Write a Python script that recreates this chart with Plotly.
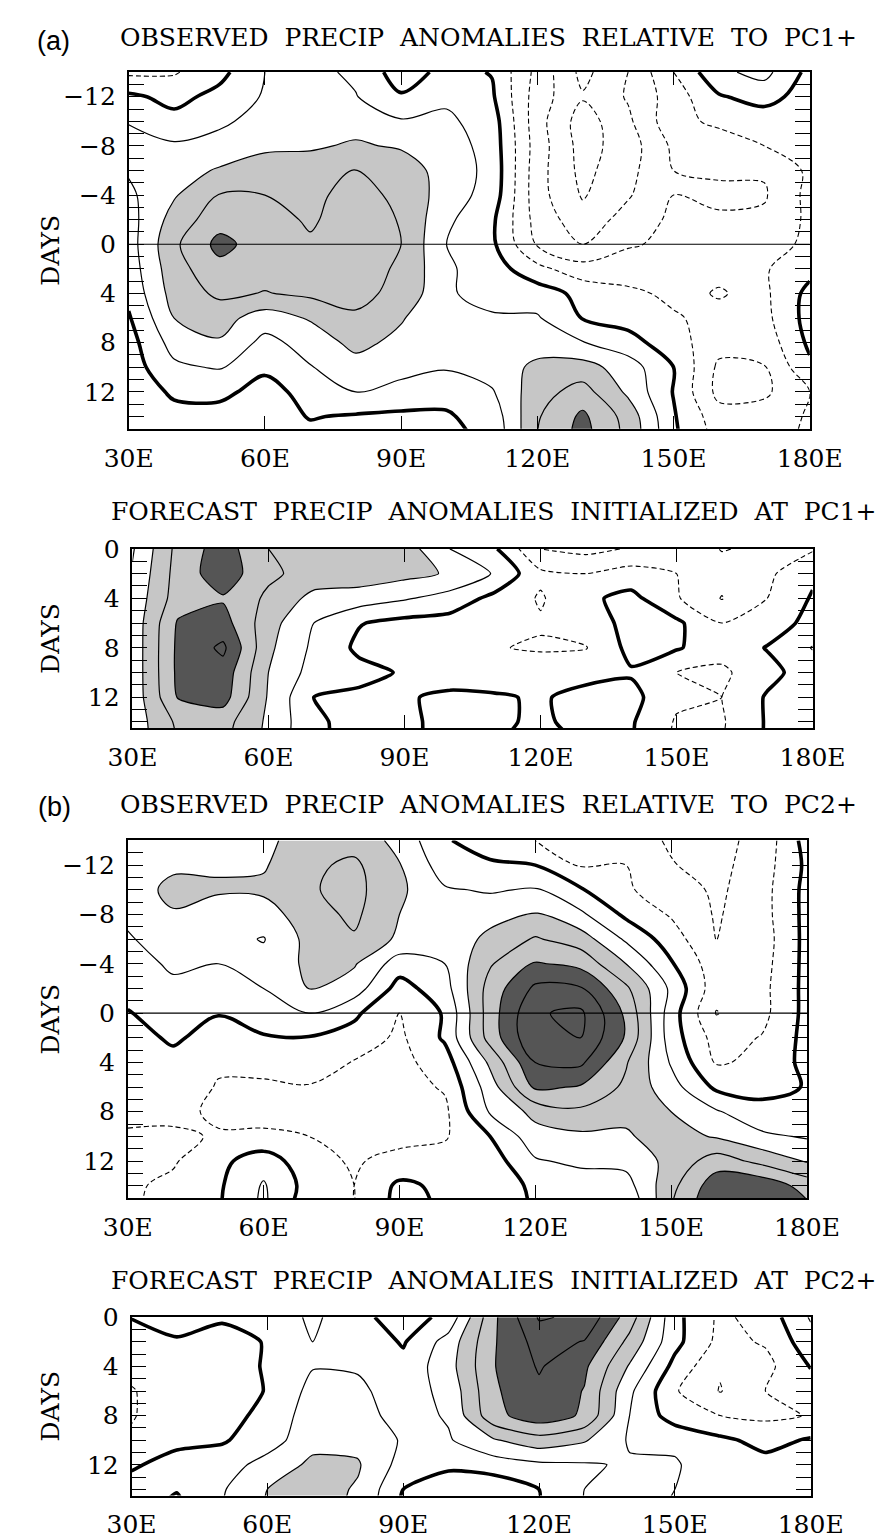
import plotly.graph_objects as go

W, H = 882, 1539

# ---------------- data ----------------
LON = [30, 40, 50, 60, 70, 80, 90, 100, 110, 120, 130, 140, 150, 160, 170, 180]
DAYS_OBS = [-14, -12, -10, -8, -6, -4, -2, 0, 2, 4, 6, 8, 10, 12, 14, 16]
DAYS_FC = [0, 2, 4, 6, 8, 10, 12, 14, 16]

# (a) observed precip anomalies relative to PC1+  (rows = days, cols = LON)
OBS_PC1 = [
    [-1.2, -1.1, -0.3, 1.0, 1.3, 0.8, -0.5, 0.3, -0.05, -2.3, -4.3, -3.0, -1.0, 0.8, 1.3, -0.3],
    [0.2, -0.3, 0.3, 1.1, 1.4, 1.05, 0.1, 0.8, 0.15, -2.5, -3.9, -2.9, -1.5, -0.1, 0.4, -0.5],
    [0.95, 0.3, 0.8, 1.4, 1.6, 1.7, 1.1, 1.2, 0.5, -2.6, -4.5, -3.2, -1.3, -0.8, -0.6, -0.5],
    [1.3, 1.15, 1.4, 1.8, 1.9, 2.1, 1.9, 1.5, 0.6, -2.5, -4.4, -3.5, -1.8, -1.5, -1.0, -0.6],
    [1.1, 1.6, 2.1, 2.5, 2.4, 3.05, 2.5, 1.6, 0.7, -2.6, -4.3, -3.3, -2.0, -1.9, -1.9, -0.8],
    [0.8, 1.9, 3.05, 3.0, 2.8, 3.3, 2.8, 1.5, 0.6, -2.6, -4.1, -3.1, -2.0, -2.15, -2.1, -0.7],
    [0.6, 2.4, 3.6, 3.3, 2.9, 3.4, 2.95, 1.2, 0.2, -2.4, -3.6, -2.6, -1.8, -1.9, -1.8, -0.8],
    [0.55, 2.8, 4.3, 3.5, 3.1, 3.4, 3.0, 1.0, 0.2, -2.1, -3.0, -2.1, -1.8, -1.5, -1.4, -0.8],
    [0.45, 2.6, 3.7, 3.4, 3.3, 3.3, 2.9, 1.15, 0.5, -0.7, -1.6, -1.5, -1.3, -1.4, -1.1, -0.3],
    [0.25, 2.4, 3.2, 2.95, 3.2, 3.2, 2.8, 1.1, 0.7, 0.5, -0.3, -0.8, -1.2, -2.2, -1.2, 0.3],
    [-0.1, 2.0, 2.4, 1.5, 2.1, 2.9, 2.1, 1.05, 1.1, 1.1, -0.05, -0.4, -0.9, -1.3, -1.3, 0.4],
    [-0.4, 1.4, 1.9, 0.7, 1.4, 2.3, 1.7, 1.1, 1.4, 1.6, 1.05, 0.4, -0.6, -1.6, -1.6, 0.2],
    [-0.5, 0.8, 1.1, 0.15, 0.95, 1.6, 1.3, 1.1, 1.5, 2.2, 2.4, 1.5, 0.0, -2.2, -2.05, -0.2],
    [-0.6, 0.15, 0.2, -0.3, 0.3, 1.0, 0.7, 0.3, 0.9, 2.6, 3.4, 1.8, -0.05, -2.3, -2.2, -1.0],
    [-0.9, -0.3, -0.3, -0.4, 0.05, -0.1, -0.2, -0.1, 0.4, 2.9, 4.2, 2.6, 0.1, -1.6, -1.5, -0.9],
    [-1.0, -0.4, -0.4, -0.4, -0.3, -0.3, -0.4, -0.3, 0.2, 3.0, 4.4, 2.7, 0.2, -1.3, -1.2, -0.9],
]

# (a) forecast precip anomalies initialized at PC1+
FC_PC1 = [
    [0.9, 3.3, 4.5, 3.0, 2.3, 2.7, 2.5, 1.0, 0.1, -2.0, -2.3, -1.9, -1.3, -2.05, -1.8, -1.1],
    [1.1, 3.4, 4.6, 3.2, 2.6, 2.6, 2.3, 1.9, 0.9, -0.8, -1.0, -0.6, -1.0, -1.6, -1.2, -0.2],
    [1.3, 3.5, 3.9, 2.8, 1.7, 1.5, 1.1, 0.6, -0.3, -1.1, -0.2, 0.3, -0.9, -2.05, -1.0, 0.1],
    [1.35, 4.1, 4.4, 2.4, 1.0, 0.05, -0.3, -0.4, -0.8, -0.9, -0.5, 0.3, 0.2, -1.0, -0.5, 0.3],
    [1.35, 4.2, 5.2, 2.2, 0.8, -0.2, -0.4, -0.6, -0.95, -1.1, -1.05, 0.3, 0.1, -0.6, 0.05, 1.05],
    [1.35, 4.2, 4.6, 2.0, 0.6, 0.3, -0.1, -0.5, -0.5, -0.5, -0.3, -0.1, -1.0, -1.2, -0.3, 0.5],
    [1.35, 4.05, 4.4, 1.9, 0.0, -0.2, -0.1, 0.2, 0.1, -0.1, 0.3, 0.3, -0.8, -1.0, 0.1, 0.5],
    [1.4, 3.2, 3.4, 1.8, 0.2, -0.4, -0.2, 0.3, 0.05, -0.05, 0.1, 0.1, -1.1, -1.1, 0.1, 0.4],
    [1.4, 3.0, 3.2, 1.7, 0.2, -0.4, -0.2, 0.3, 0.0, -0.05, 0.0, 0.0, -1.2, -1.0, 0.1, 0.4],
]

# (b) observed precip anomalies relative to PC2+
OBS_PC2 = [
    [1.5, 1.5, 1.6, 1.8, 2.4, 2.6, 1.7, 0.1, -0.5, -1.0, -1.3, -1.6, -2.1, -2.3, -1.7, 0.4],
    [1.5, 1.8, 1.9, 1.9, 2.8, 3.2, 2.05, 0.5, 0.15, 0.0, -1.1, -1.0, -1.95, -2.3, -1.5, 0.2],
    [1.4, 2.3, 2.1, 2.2, 2.9, 3.3, 2.2, 1.1, 0.9, 1.1, 0.1, -0.9, -1.4, -2.2, -1.4, 0.3],
    [1.2, 1.9, 1.6, 1.5, 2.6, 3.2, 2.0, 1.3, 1.6, 2.1, 1.2, -0.2, -1.1, -2.1, -1.4, 0.3],
    [0.9, 1.5, 1.3, 0.95, 2.3, 2.9, 1.8, 1.2, 2.3, 3.1, 2.5, 0.85, -0.5, -2.02, -1.5, 0.3],
    [0.6, 1.15, 1.0, 1.3, 2.2, 2.1, 0.5, 1.0, 2.9, 4.1, 3.7, 2.0, 0.1, -1.6, -1.4, 0.3],
    [0.3, 0.8, 0.8, 1.0, 2.05, 1.5, -0.4, 0.6, 3.4, 5.2, 5.1, 3.2, 0.8, -1.6, -1.3, 0.3],
    [-0.05, 0.4, 0.05, 0.6, 1.0, 0.2, -1.0, 0.1, 3.5, 5.9, 6.2, 3.8, 0.5, -2.05, -1.3, 0.3],
    [-0.4, 0.15, -0.4, -0.1, -0.05, -0.4, -1.2, 0.15, 3.4, 5.9, 6.0, 3.9, 0.5, -1.4, -0.95, 0.3],
    [-0.6, -0.3, -0.9, -0.7, -0.6, -1.05, -1.3, -0.5, 2.2, 5.0, 5.2, 3.1, 0.9, -1.1, -0.8, 0.3],
    [-0.8, -0.6, -1.05, -1.15, -1.05, -1.3, -1.4, -0.9, 1.5, 4.2, 3.9, 2.8, 1.4, -0.2, -0.3, 0.05],
    [-0.9, -0.85, -1.1, -1.2, -1.2, -1.4, -1.7, -1.2, 1.1, 2.3, 2.8, 2.2, 2.0, 1.1, 0.3, 0.5],
    [-1.05, -1.1, -0.95, -0.9, -1.0, -1.3, -1.3, -1.1, 0.0, 1.6, 1.8, 1.9, 2.4, 1.9, 1.2, 0.9],
    [-1.15, -1.1, -0.3, 0.6, -0.7, -1.1, -0.7, -0.6, -0.5, 0.9, 1.2, 1.3, 2.3, 3.5, 2.7, 1.9],
    [-1.15, -0.8, -0.15, 1.1, -0.4, -1.0, 0.2, -0.2, -0.6, 0.2, 0.5, 0.6, 2.7, 4.6, 4.7, 3.6],
    [-1.1, -0.8, -0.1, 1.2, -0.9, -1.0, 0.3, -0.1, -0.6, 0.1, -0.3, -0.2, 3.0, 5.0, 5.2, 4.3],
]

# (b) forecast precip anomalies initialized at PC2+
FC_PC2 = [
    [0.05, 0.4, 0.1, 0.3, 1.2, 0.3, -0.5, 0.3, 3.8, 6.1, 5.8, 3.5, 0.3, -1.2, -0.6, 1.1],
    [-0.6, -0.1, -0.3, 0.05, 1.0, 0.7, -0.1, 1.4, 3.9, 5.4, 4.95, 2.7, 0.3, -1.3, -0.9, 0.6],
    [-0.8, -0.5, -0.5, 0.1, 0.95, 0.9, 0.3, 1.6, 3.95, 5.1, 4.2, 1.9, -0.3, -1.9, -1.3, 0.05],
    [-1.05, -0.6, -0.5, 0.05, 1.3, 1.2, 0.5, 1.3, 3.85, 4.8, 3.95, 1.2, -0.9, -2.05, -1.0, -0.5],
    [-1.05, -0.6, -0.4, 0.3, 1.5, 1.4, 0.6, 1.1, 3.7, 4.6, 3.85, 1.0, -0.5, -1.0, -1.2, -0.95],
    [-0.9, -0.2, -0.1, 0.5, 1.7, 1.7, 0.9, 0.9, 1.9, 2.6, 2.1, 0.9, 0.8, 0.2, -0.3, 0.1],
    [-0.1, 0.3, 0.5, 1.4, 2.2, 2.1, 0.6, 0.3, 0.5, 0.8, 0.9, 1.1, 1.1, 0.4, 0.3, 0.4],
    [0.3, 0.05, 0.9, 2.0, 2.4, 1.9, 0.0, -0.9, -0.7, 0.0, 1.0, 1.2, 1.0, 0.4, 0.4, 0.4],
    [0.3, -0.3, 1.0, 2.1, 2.4, 1.8, -0.2, -1.2, -1.1, 0.0, 1.0, 1.2, 0.9, 0.4, 0.4, 0.4],
]

TITLES = [
    "OBSERVED PRECIP ANOMALIES RELATIVE TO PC1+",
    "FORECAST PRECIP ANOMALIES INITIALIZED AT PC1+",
    "OBSERVED PRECIP ANOMALIES RELATIVE TO PC2+",
    "FORECAST PRECIP ANOMALIES INITIALIZED AT PC2+",
]
PANEL_LABELS = ["(a)", "(b)"]
XTICK_VALS = [30, 60, 90, 120, 150, 180]
XTICK_TEXT = ["30E", "60E", "90E", "120E", "150E", "180E"]
Y_LABEL = "DAYS"

# ---------------- layout helpers ----------------
SERIF = "DejaVu Serif"
SANS = "Liberation Sans"
LIGHT = "#c6c6c6"
DARK = "#555555"
SHADE_SCALE = [[0, "white"], [0.25, "white"], [0.25, LIGHT], [0.75, LIGHT],
               [0.75, DARK], [1, DARK]]

# pixel boxes (left, top, right, bottom) of the four plot frames
BOXES = [(111, 59, 840, 421), (115, 543, 843, 725),
         (110, 839, 837, 1202), (114, 1323, 841, 1504)]
TITLE_POS = [(100, 24), (90, 505), (100, 802), (90, 1286)]
LABEL_POS = [(31, 27), (32, 805)]

panels = [
    (OBS_PC1, DAYS_OBS, [15, -14], True),
    (FC_PC1, DAYS_FC, [14.5, 0], False),
    (OBS_PC2, DAYS_OBS, [15, -14], True),
    (FC_PC2, DAYS_FC, [14.5, 0], False),
]


def px_x(v):
    return v / W


def px_y(v):
    return 1 - v / H


fig = go.Figure()
shapes = []
annotations = []

for i, (z, days, yrange, observed) in enumerate(panels):
    n = i + 1
    xa = "x" if n == 1 else f"x{n}"
    ya = "y" if n == 1 else f"y{n}"
    smooth = 1.0 if observed else 0.6
    common = dict(x=LON, y=days, z=z, xaxis=xa, yaxis=ya, showscale=False,
                  hoverinfo="skip", autocontour=False)
    # shading
    fig.add_trace(go.Contour(
        **common,
        contours=dict(start=2, end=4, size=2, coloring="fill", showlines=False),
        colorscale=SHADE_SCALE, line=dict(width=0, smoothing=smooth)))
    # positive contours
    fig.add_trace(go.Contour(
        **common,
        contours=dict(start=1, end=9, size=1, coloring="none", showlines=True),
        line=dict(color="black", width=1.2, smoothing=smooth)))
    # negative contours (dashed)
    fig.add_trace(go.Contour(
        **common,
        contours=dict(start=-6, end=-1, size=1, coloring="none", showlines=True),
        line=dict(color="black", width=1.1, dash="5px,3px", smoothing=smooth)))
    # zero contour (thick)
    fig.add_trace(go.Contour(
        **common,
        contours=dict(start=0, end=0.5, size=1, coloring="none", showlines=True),
        line=dict(color="black", width=3.6, smoothing=smooth)))

    l, t, r, b = BOXES[i]
    xkey = "xaxis" if n == 1 else f"xaxis{n}"
    ykey = "yaxis" if n == 1 else f"yaxis{n}"
    fig.layout[xkey] = dict(
        domain=[px_x(l), px_x(r)], range=[30, 180], anchor=ya,
        tickmode="array", tickvals=XTICK_VALS, ticktext=XTICK_TEXT,
        ticks="inside", ticklen=13, tickwidth=1.3, tickcolor="black",
        showline=True, linewidth=1.6, linecolor="black", mirror="ticks",
        showgrid=False, zeroline=False, ticklabelstandoff=6,
        tickfont=dict(family=SERIF, size=25, color="black"))
    fig.layout[ykey] = dict(
        domain=[px_y(b), px_y(t)], range=yrange, anchor=xa,
        tickmode="linear", tick0=0, dtick=4,
        ticks="inside", ticklen=15, tickwidth=1.3, tickcolor="black",
        minor=dict(dtick=1, tick0=0, ticks="inside", ticklen=15, tickwidth=1.1,
                   tickcolor="black", showgrid=False),
        showline=True, linewidth=1.6, linecolor="black", mirror="ticks",
        showgrid=False, zeroline=False, ticklabelstandoff=6,
        tickfont=dict(family=SERIF, size=25, color="black"))

    if observed:
        shapes.append(dict(type="line", xref=f"{xa} domain", yref=ya,
                           x0=0, x1=1, y0=0, y1=0,
                           line=dict(color="black", width=1.2)))

    tx, ty = TITLE_POS[i]
    annotations.append(dict(
        text=TITLES[i].replace(" ", " \u00a0"), x=px_x(tx), y=px_y(ty),
        xref="paper", yref="paper", xanchor="left", yanchor="middle",
        showarrow=False, font=dict(family=SERIF, size=25, color="black")))
    annotations.append(dict(
        text=Y_LABEL, x=px_x(27), y=px_y((t + b) / 2), textangle=-90,
        xref="paper", yref="paper", xanchor="center", yanchor="middle",
        showarrow=False, font=dict(family=SERIF, size=25, color="black")))

for j, lab in enumerate(PANEL_LABELS):
    lx, ly = LABEL_POS[j]
    annotations.append(dict(
        text=lab, x=px_x(lx), y=px_y(ly), xref="paper", yref="paper",
        xanchor="center", yanchor="middle", showarrow=False,
        font=dict(family=SANS, size=27, color="black")))

fig.update_layout(
    width=W, height=H, margin=dict(l=0, r=0, t=0, b=0),
    paper_bgcolor="white", plot_bgcolor="white", showlegend=False,
    shapes=shapes, annotations=annotations)

fig.write_html("out.html")
